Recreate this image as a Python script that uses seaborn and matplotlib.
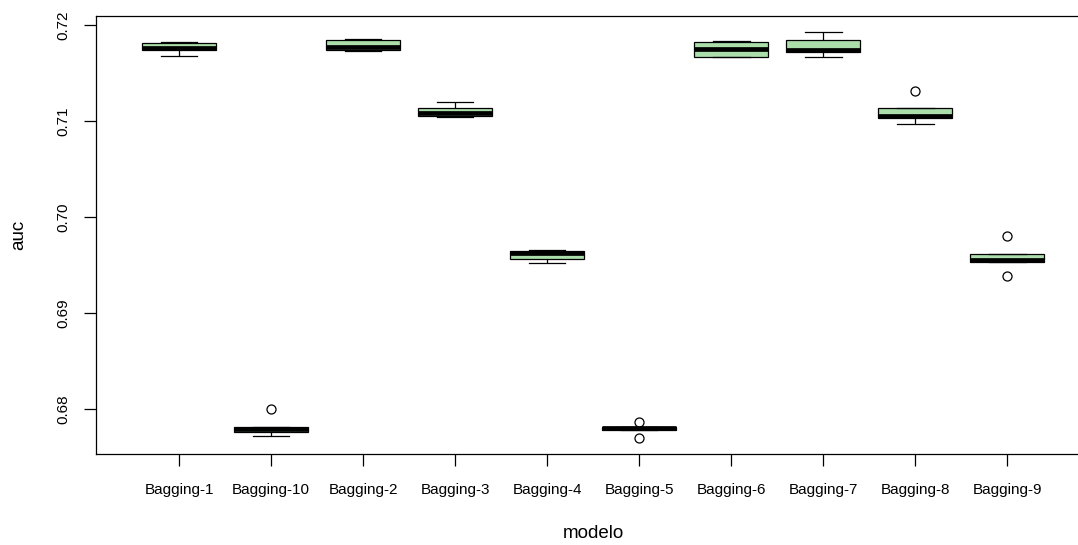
import pandas as pd
import numpy as np
import matplotlib
matplotlib.use("Agg")
import matplotlib.pyplot as plt
import seaborn as sns

# AUC per run for each bagging model
modelos = ['Bagging-1', 'Bagging-10', 'Bagging-2', 'Bagging-3', 'Bagging-4',
           'Bagging-5', 'Bagging-6', 'Bagging-7', 'Bagging-8', 'Bagging-9']
auc_b1 = [0.71677, 0.71725, 0.71740, 0.71752, 0.71761, 0.71790, 0.71816, 0.71820, 0.71823]
auc_b10 = [0.67720, 0.67755, 0.67767, 0.67780, 0.67791, 0.67800, 0.67812, 0.67812, 0.67999]
auc_b2 = [0.71730, 0.71736, 0.71740, 0.71760, 0.71774, 0.71810, 0.71844, 0.71850, 0.71854]
auc_b3 = [0.71046, 0.71050, 0.71053, 0.71070, 0.71081, 0.71110, 0.71133, 0.71160, 0.71196]
auc_b4 = [0.69523, 0.69545, 0.69560, 0.69600, 0.69627, 0.69640, 0.69652, 0.69654, 0.69656]
auc_b5 = [0.67700, 0.67790, 0.67790, 0.67800, 0.67808, 0.67812, 0.67818, 0.67818, 0.67872]
auc_b6 = [0.71662, 0.71666, 0.71670, 0.71720, 0.71755, 0.71790, 0.71823, 0.71830, 0.71834]
auc_b7 = [0.71670, 0.71700, 0.71716, 0.71730, 0.71745, 0.71800, 0.71841, 0.71880, 0.71924]
auc_b8 = [0.70967, 0.71010, 0.71037, 0.71045, 0.71053, 0.71100, 0.71133, 0.71133, 0.71313]
auc_b9 = [0.69388, 0.69534, 0.69534, 0.69545, 0.69558, 0.69590, 0.69614, 0.69614, 0.69804]
y_ticks = [0.68, 0.69, 0.70, 0.71, 0.72]

valores = [auc_b1, auc_b10, auc_b2, auc_b3, auc_b4,
           auc_b5, auc_b6, auc_b7, auc_b8, auc_b9]
df = pd.DataFrame({
    'modelo': [m for m, v in zip(modelos, valores) for _ in v],
    'auc': [x for v in valores for x in v],
})

plt.rcParams['font.family'] = ['Liberation Sans', 'DejaVu Sans']

fig = plt.figure(figsize=(10.78, 5.45), dpi=100)
ax = fig.add_axes([0.0895, 0.167, 0.9216, 0.8037])

sns.boxplot(data=df, x='modelo', y='auc', order=modelos, ax=ax,
            color='#abdeab', saturation=1, width=0.8, whis=1.5,
            linecolor='black', linewidth=0.9,
            medianprops=dict(color='black', linewidth=3.4),
            flierprops=dict(marker='o', markerfacecolor='white',
                            markeredgecolor='black', markersize=6.5,
                            markeredgewidth=0.9))

ax.set_xlim(-0.897, 9.9)
ax.set_ylim(0.67536, 0.72094)
ax.set_yticks(y_ticks)
ax.set_yticklabels([f'{t:.2f}' for t in y_ticks])

ax.tick_params(axis='x', length=8.5, width=0.9, pad=12.5, labelsize=11)
ax.tick_params(axis='y', length=8.5, width=0.9, pad=10, labelsize=11,
               labelrotation=90)
for lbl in ax.get_yticklabels():
    lbl.set_va('center')

ax.set_xlabel('modelo', fontsize=13.5, labelpad=20)
ax.set_ylabel('auc', fontsize=13.5, labelpad=21)

for s in ax.spines.values():
    s.set_linewidth(0.9)
    s.set_color('black')
ax.grid(False)

fig.savefig('out.png', dpi=100)
